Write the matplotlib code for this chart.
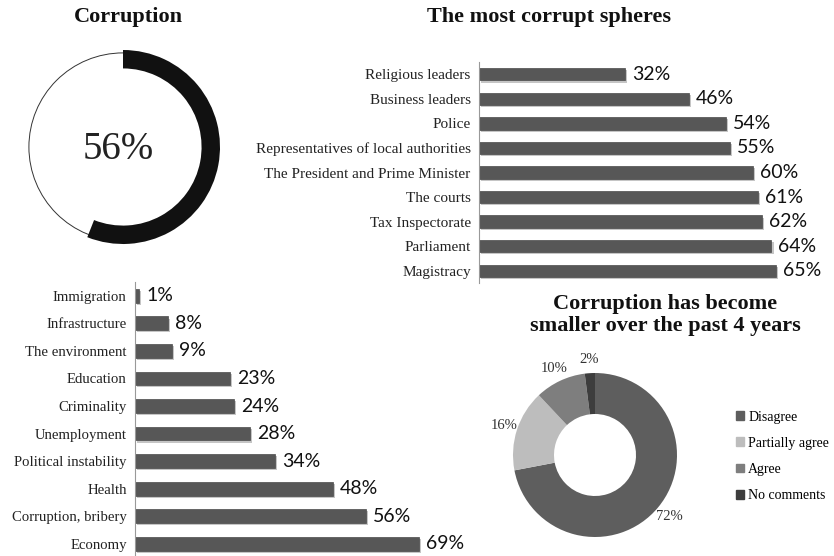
import matplotlib.pyplot as plt
import matplotlib.patheffects as pe
from matplotlib.patches import Circle, Patch

W, H = 834, 556
SERIF = 'Liberation Serif'
SANS = 'Lato'

# overall corruption share
corruption_share = 56

# most corrupt spheres (top to bottom)
spheres = ['Religious leaders', 'Business leaders', 'Police',
           'Representatives of local authorities', 'The President and Prime Minister',
           'The courts', 'Tax Inspectorate', 'Parliament', 'Magistracy']
sphere_values = [32, 46, 54, 55, 60, 61, 62, 64, 65]

# main problems (top to bottom)
problems = ['Immigration', 'Infrastructure', 'The environment', 'Education',
            'Criminality', 'Unemployment', 'Political instability', 'Health',
            'Corruption, bribery', 'Economy']
problem_values = [1, 8, 9, 23, 24, 28, 34, 48, 56, 69]

# opinion: corruption has become smaller over the past 4 years
opinions = ['Disagree', 'Partially agree', 'Agree', 'No comments']
opinion_values = [72, 16, 10, 2]
opinion_colors = ['#5e5e5e', '#bdbdbd', '#7e7e7e', '#3d3d3d']


def box(x0, y0, x1, y1):
    # pixel rectangle (top-left origin) -> figure fraction
    return [x0 / W, 1 - y1 / H, (x1 - x0) / W, (y1 - y0) / H]


fig = plt.figure(figsize=(W / 100, H / 100), dpi=100)
fig.patch.set_facecolor('white')

# --- Corruption ring ---
fig.text(128 / W, 1 - 17 / H, 'Corruption', ha='center', va='center',
         family=SERIF, weight='bold', size=16, color='#111')
ax0 = fig.add_axes(box(26, 50, 220, 244))
ax0.add_patch(Circle((0, 0), 0.97, fill=False, lw=0.7, color='#333'))
ax0.pie([corruption_share, 100 - corruption_share], colors=['#111111', 'none'],
        startangle=90, counterclock=False, radius=1.0,
        wedgeprops=dict(width=0.19, edgecolor='none'))
ax0.set_xlim(-1, 1)
ax0.set_ylim(-1, 1)
ax0.set_aspect('equal')
ax0.axis('off')
ax0.text(-0.05, -0.03, f'{corruption_share}%', ha='center', va='center',
         family=SERIF, size=28, color='#222')


def hbars(ax, labels, values, xmax, bottom, fsize):
    ypos = range(len(values))
    bars = ax.barh(ypos, values, height=0.5, color='#575757', edgecolor='#4a4a4a', lw=0.5)
    for b in bars:
        b.set_path_effects([pe.SimplePatchShadow(offset=(1.5, -1.5), alpha=0.25), pe.Normal()])
    ax.set_xlim(0, xmax)
    ax.set_ylim(bottom, -0.5)
    ax.set_yticks(list(ypos))
    ax.set_yticklabels(labels, family=SERIF, size=fsize, color='#222')
    ax.tick_params(axis='y', length=0, pad=6)
    ax.set_xticks([])
    for s in ['top', 'right', 'bottom']:
        ax.spines[s].set_visible(False)
    ax.spines['left'].set_color('#999')
    ax.spines['left'].set_linewidth(0.8)
    ax.bar_label(bars, labels=[f'{v}%' for v in values], padding=5,
                 family=SANS, size=14, color='#111')
    ax.patch.set_alpha(0)


# --- Most corrupt spheres ---
fig.text(549 / W, 1 - 17 / H, 'The most corrupt spheres', ha='center', va='center',
         family=SERIF, weight='bold', size=16, color='#111')
ax1 = fig.add_axes(box(479, 62, 834, 283))
hbars(ax1, spheres, sphere_values, 355 / 4.57, 8.5, 11)

# --- Problems ---
ax2 = fig.add_axes(box(135, 282, 480, 556))
hbars(ax2, problems, problem_values, 345 / 4.12, -0.5 + 274 / 27.56, 10.6)

# --- Opinion donut ---
fig.text(665 / W, 1 - 315 / H, 'Corruption has become\nsmaller over the past 4 years',
         ha='center', va='center', family=SERIF, weight='bold', size=16,
         color='#111', linespacing=1.2)
ax3 = fig.add_axes(box(513, 373, 677, 537))
wedges, _, pcts = ax3.pie(opinion_values, colors=opinion_colors, startangle=90,
                          counterclock=False, autopct='%1.0f%%', pctdistance=1.17,
                          wedgeprops=dict(width=0.5, edgecolor='none'),
                          textprops=dict(family=SERIF, size=10.5, color='#333'))
ax3.set_xlim(-1, 1)
ax3.set_ylim(-1, 1)
ax3.set_aspect('equal')
handles = [Patch(color=c, label=l) for c, l in zip(opinion_colors, opinions)]
fig.legend(handles=handles, loc='upper left', bbox_to_anchor=(730 / W, 1 - 405 / H),
           frameon=False, prop=dict(family=SERIF, size=10), handlelength=0.6,
           handleheight=0.6, handletextpad=0.3, labelspacing=0.95, borderaxespad=0)

fig.savefig('out.png', dpi=100, facecolor='white')
